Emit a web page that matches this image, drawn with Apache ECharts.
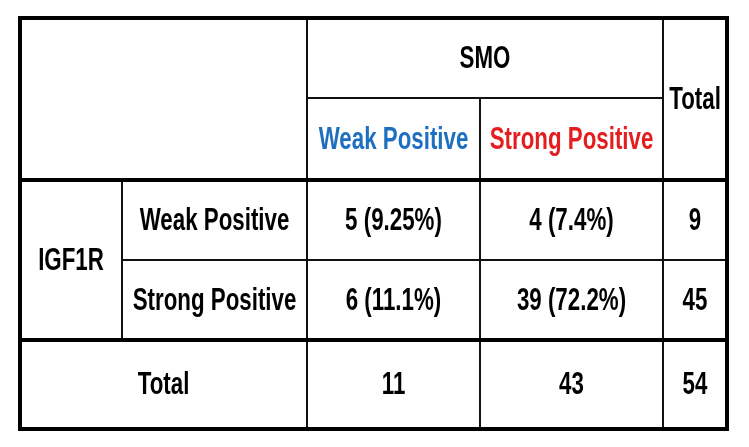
<!DOCTYPE html>
<html><head><meta charset="utf-8">
<script src="https://cdn.jsdelivr.net/npm/echarts@6/dist/echarts.min.js"></script>
<style>html,body{margin:0;padding:0;background:#fff}#c{width:749px;height:447px}</style>
</head><body><div id="c"></div>
<script>
// Table content
const colHeader = ["SMO"];
const subHeaders = ["Weak Positive", "Strong Positive"];
const rowGroup = "IGF1R";
const rowLabels = ["Weak Positive", "Strong Positive"];
const cellValues = [["5 (9.25%)", "4 (7.4%)", "9"], ["6 (11.1%)", "39 (72.2%)", "45"]];
const totals = ["11", "43", "54"];
const totalLabel = "Total";

// layout (column / row edges in pixel-like units)
const colEdges = [20, 122, 307, 480, 663, 727];
const rowEdges = [18, 98, 180, 260, 340, 429];

// cells: [col, row, colSpan, rowSpan, text, color]
const cells = [
  [0,0,2,2,"","#000"],
  [2,0,2,1,colHeader[0],"#000"],
  [4,0,1,2,totalLabel,"#000"],
  [2,1,1,1,subHeaders[0],"#1f6fc0"],
  [3,1,1,1,subHeaders[1],"#e41e1e"],
  [0,2,1,2,rowGroup,"#000"],
  [1,2,1,1,rowLabels[0],"#000"],
  [1,3,1,1,rowLabels[1],"#000"],
  [2,2,1,1,cellValues[0][0],"#000"],[3,2,1,1,cellValues[0][1],"#000"],[4,2,1,1,cellValues[0][2],"#000"],
  [2,3,1,1,cellValues[1][0],"#000"],[3,3,1,1,cellValues[1][1],"#000"],[4,3,1,1,cellValues[1][2],"#000"],
  [0,4,2,1,totalLabel,"#000"],
  [2,4,1,1,totals[0],"#000"],[3,4,1,1,totals[1],"#000"],[4,4,1,1,totals[2],"#000"]
];

const chart = echarts.init(document.getElementById('c'));
chart.setOption({
  animation:false,
  grid:{left:0,right:0,top:0,bottom:0},
  xAxis:{type:'value',min:0,max:749,show:false},
  yAxis:{type:'value',min:0,max:447,inverse:true,show:false},
  series:[{
    type:'custom',
    data:cells,
    renderItem:function(params, api){
      const c=api.value(0), r=api.value(1), cs=api.value(2), rs=api.value(3);
      const d=cells[params.dataIndex];
      const p0=api.coord([colEdges[c], rowEdges[r]]);
      const p1=api.coord([colEdges[c+cs], rowEdges[r+rs]]);
      return {type:'group',children:[
        {type:'rect',shape:{x:p0[0],y:p0[1],width:p1[0]-p0[0],height:p1[1]-p0[1]},
         style:{fill:'#fff',stroke:'#111',lineWidth:2}},
        {type:'text',x:(p0[0]+p1[0])/2,y:(p0[1]+p1[1])/2+1,scaleX:0.72,
          style:{text:d[4],x:0,y:0,
          align:'center',verticalAlign:'middle',fill:d[5],
          font:'bold 31px "Liberation Sans", Arial, sans-serif'}}
      ]};
    }
  },{
    type:'custom',
    data:[[0]],
    renderItem:function(params, api){
      const a=api.coord([colEdges[0],rowEdges[0]]), b=api.coord([colEdges[5],rowEdges[5]]);
      const l1=api.coord([colEdges[0],rowEdges[2]]), l2=api.coord([colEdges[0],rowEdges[4]]);
      return {type:'group',children:[
        {type:'rect',shape:{x:a[0],y:a[1],width:b[0]-a[0],height:b[1]-a[1]},style:{fill:'none',stroke:'#000',lineWidth:4}},
        {type:'line',shape:{x1:a[0],y1:l1[1],x2:b[0],y2:l1[1]},style:{stroke:'#000',lineWidth:4}},
        {type:'line',shape:{x1:a[0],y1:l2[1],x2:b[0],y2:l2[1]},style:{stroke:'#000',lineWidth:4}}
      ]};
    }
  }]
});
</script></body></html>
